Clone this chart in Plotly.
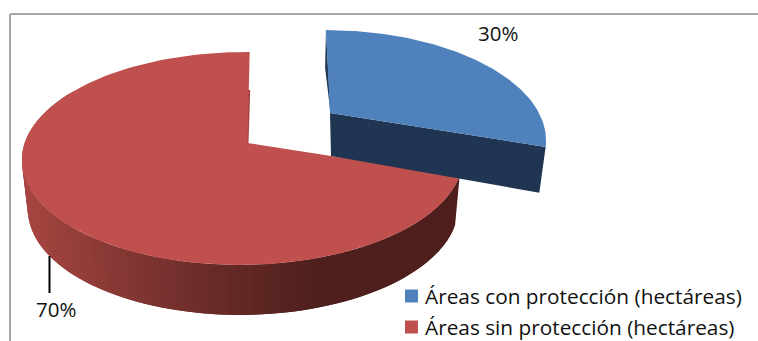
import math
import plotly.graph_objects as go

categories = ["Áreas con protección (hectáreas)", "Áreas sin protección (hectáreas)"]
values = [30, 70]

W, H = 758, 341
BLUE, RED = "#4F81BD", "#C0504D"
BLUE_SIDE, RED_CUT = "#1F3552", "#A2403D"
SHADE = [(20, (168, 70, 66)), (100, (140, 58, 54)), (200, (108, 44, 41)), (320, (78, 31, 29)), (800, (78, 31, 29))]
FONT = "Open Sans"
LEGEND_X, LEGEND_TEXT_X, LEGEND_Y, LEGEND_DY = 411.5, 423, 296, 31

# disc projections: apex x, apex y, A, B, skew, k, m
RED_TOP = (247.5, 143, 218.2, 104.2, -2.5, 0.1455, 0.0205)
RED_BOT = (248, 192, 213, 105, -2.5, 0.1455, 0.0205)
BLUE_TOP = (330, 113, 209, 102, 5, 0.23, 0.0)
BLUE_BOT = (331, 156, 212, 116, 5, 0.08, 0.0)

def proj(deg, p):
    cx, cy, a, b, s, k, m = p
    t = math.radians(deg)
    u, v = math.sin(t), -math.cos(t)
    d = 1 - k * v + m * u
    return cx + (a * u + s * v) / d, cy + b * v / d

def arc(start, stop, p, n=120):
    pts = [proj(start + (stop - start) * i / n, p) for i in range(n + 1)]
    return [q[0] for q in pts], [q[1] for q in pts]

def shade(x):
    for (x0, c0), (x1, c1) in zip(SHADE, SHADE[1:]):
        if x <= x1:
            f = max(0, (x - x0) / (x1 - x0))
            return "rgb(%d,%d,%d)" % tuple(round(c0[i] + (c1[i] - c0[i]) * f) for i in range(3))
    return "rgb(78,31,29)"

def poly(xs, ys, color):
    return go.Scatter(x=xs, y=ys, mode="lines", fill="toself", fillcolor=color,
                      line=dict(color=color, width=0),
                      hoverinfo="skip", showlegend=False)

total = sum(values)
split = 360 * values[0] / total

fig = go.Figure()

# red rim, drawn as overlapping shaded strips from right to left
step = 2.0
th = split
while th < 300:
    ux, uy = arc(th, th + 2 * step, RED_TOP, 4)
    lx, ly = arc(th + 2 * step, th, RED_BOT, 4)
    fig.add_trace(poly(ux + lx + ux[:1], uy + ly + uy[:1], shade(proj(th + step / 2, RED_TOP)[0])))
    th += step

# sliver of red cut face beside the apex
xr, yr = proj(360, RED_TOP)
fig.add_trace(poly([xr + 0.5, RED_TOP[0] + 1, RED_TOP[0] - 1.5, xr - 2.5],
                   [yr + 38, RED_TOP[1], RED_TOP[1], yr + 38], RED_CUT))

# red top
ax, ay = arc(split, 360, RED_TOP)
fig.add_trace(poly(ax + [RED_TOP[0], ax[0]], ay + [RED_TOP[1], ay[0]], RED))

# blue cut faces
bx0, by0 = proj(split, BLUE_TOP)
bx1, by1 = proj(split, BLUE_BOT)
fig.add_trace(poly([BLUE_TOP[0], bx0, bx1, BLUE_BOT[0]], [BLUE_TOP[1], by0, by1, BLUE_BOT[1]], BLUE_SIDE))
tx0, ty0 = proj(0, BLUE_TOP)
fig.add_trace(poly([tx0, BLUE_TOP[0], BLUE_BOT[0] - 0.5, tx0 - 0.8], [ty0, BLUE_TOP[1], BLUE_TOP[1], ty0 + 38], BLUE_SIDE))

# blue top
ax, ay = arc(0, split, BLUE_TOP)
fig.add_trace(poly(ax + [BLUE_TOP[0], ax[0]], ay + [BLUE_TOP[1], ay[0]], BLUE))

# legend swatches and labels
legend_notes = []
for i, (name, col) in enumerate(zip(categories, [BLUE, RED])):
    y = LEGEND_Y + i * LEGEND_DY
    fig.add_trace(go.Scatter(x=[LEGEND_X], y=[y], mode="markers", name=name, showlegend=False,
                             marker=dict(symbol="square", size=13, color=col)))
    legend_notes.append(dict(x=LEGEND_TEXT_X, y=y, xref="x", yref="y", xanchor="left", text=name,
                             showarrow=False, font=dict(family=FONT, size=20.8, color="#111111")))

fig.update_layout(
    width=W, height=H, autosize=False,
    margin=dict(l=0, r=0, t=0, b=0),
    paper_bgcolor="white", plot_bgcolor="white",
    showlegend=False,
    xaxis=dict(range=[0, W], visible=False, fixedrange=True),
    yaxis=dict(range=[H, 0], visible=False, fixedrange=True),
    shapes=[
        dict(type="line", xref="x", yref="y", x0=10, x1=W, y0=14, y1=14, line=dict(color="#8C8C8C", width=1.5)),
        dict(type="line", xref="x", yref="y", x0=10, x1=10, y0=14, y1=H, line=dict(color="#A6A6A6", width=2)),
        dict(type="line", xref="x", yref="y", x0=49.5, x1=49.5, y0=256, y1=293, line=dict(color="black", width=2)),
    ],
    annotations=legend_notes + [
        dict(x=56, y=309, xref="x", yref="y", text="%d%%" % values[1], showarrow=False,
             font=dict(family=FONT, size=20.5, color="#111111")),
        dict(x=498, y=33, xref="x", yref="y", text="%d%%" % values[0], showarrow=False,
             font=dict(family=FONT, size=20.5, color="#111111")),
    ],
)
fig.write_html("out.html", config=dict(displayModeBar=False),
               post_script="document.body.style.margin='0';document.documentElement.style.overflow='hidden';")
